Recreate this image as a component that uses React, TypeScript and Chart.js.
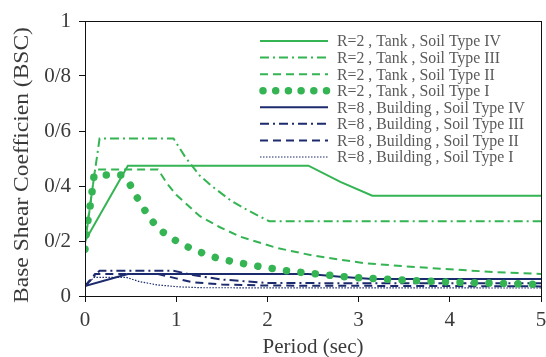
import React, { useEffect, useRef } from 'react';
import { Chart, registerables } from 'chart.js';

Chart.register(...registerables);

// Period (sec) and base shear coefficient values for each curve
const tankIV_T = [0, 0.47, 2.45, 2.8, 3.15, 5];
const tankIV_V = [0.2, 0.474, 0.474, 0.415, 0.365, 0.365];

const tankIII_T = [0, 0.16, 0.97, 1.1, 1.26, 1.4, 1.6, 1.8, 2.02, 5];
const tankIII_V = [0.2, 0.573, 0.573, 0.505, 0.437, 0.397, 0.347, 0.309, 0.272, 0.272];

const tankII_T = [0, 0.11, 0.8, 0.9, 1.0, 1.26, 1.48, 1.7, 2.1, 2.5, 3.05, 3.5, 4.0, 4.5, 5];
const tankII_V = [0.19, 0.46, 0.46, 0.409, 0.368, 0.29, 0.25, 0.216, 0.175, 0.147, 0.12, 0.108, 0.097, 0.087, 0.08];

const tankI_T = [0, 0.02, 0.045, 0.07, 0.1, 0.4, 0.47, 0.55, 0.62, 0.7, 0.8, 0.93, 1.06, 1.2, 1.35, 1.5, 1.7, 1.9, 2.25, 2.6, 2.9, 3.25, 3.6, 3.95, 4.3, 4.65, 5];
const tankI_V = [0.17, 0.25, 0.3, 0.36, 0.44, 0.44, 0.42, 0.37, 0.33, 0.29, 0.245, 0.215, 0.188, 0.168, 0.148, 0.133, 0.12, 0.108, 0.09, 0.078, 0.068, 0.062, 0.056, 0.051, 0.048, 0.045, 0.042];

const bldIV_T = [0, 0.47, 2.45, 2.8, 3.15, 5];
const bldIV_V = [0.036, 0.08, 0.08, 0.07, 0.062, 0.062];

const bldIII_T = [0, 0.16, 0.97, 1.2, 1.5, 2.0, 5];
const bldIII_V = [0.036, 0.092, 0.092, 0.075, 0.06, 0.047, 0.046];

const bldII_T = [0, 0.11, 0.8, 1.0, 1.18, 1.5, 2.0, 5];
const bldII_V = [0.036, 0.08, 0.08, 0.064, 0.05, 0.042, 0.038, 0.035];

const bldI_T = [0, 0.1, 0.45, 0.6, 0.8, 1.04, 1.3, 5];
const bldI_V = [0.036, 0.068, 0.068, 0.052, 0.04, 0.033, 0.03, 0.029];

const seriesLabels = [
  'R=2 , Tank , Soil Type IV',
  'R=2 , Tank , Soil Type III',
  'R=2 , Tank , Soil Type II',
  'R=2 , Tank , Soil Type I',
  'R=8 , Building , Soil Type IV',
  'R=8 , Building , Soil Type III',
  'R=8 , Building , Soil Type II',
  'R=8 , Building , Soil Type I',
];

const yTickLabels = ['0', '0/2', '0/4', '0/6', '0/8', '1'];
const xTitle = 'Period (sec)';
const yTitle = 'Base Shear Coefficien (BSC)';

const GREEN = '#34b453';
const NAVY = '#1c2a6e';
const FONT = '"Liberation Serif", "Times New Roman", serif';

const pts = (t: number[], v: number[]) => t.map((x, i) => ({ x, y: v[i] }));

const App = () => {
  const ref = useRef<HTMLCanvasElement | null>(null);

  useEffect(() => {
    if (!ref.current) return;
    const styles = [
      { c: GREEN, w: 2, d: [] as number[], ld: [] as number[], cap: 'butt' },
      { c: GREEN, w: 2, d: [9, 4, 2, 4], ld: [9, 4, 2, 4], cap: 'butt' },
      { c: GREEN, w: 2, d: [8, 5], ld: [8, 5], cap: 'butt' },
      { c: GREEN, w: 7.5, d: [0.001, 14.5], ld: [0.001, 12.7], cap: 'round' },
      { c: NAVY, w: 2, d: [] as number[], ld: [] as number[], cap: 'butt' },
      { c: NAVY, w: 2, d: [9, 4, 2, 4], ld: [9, 4, 2, 4], cap: 'butt' },
      { c: NAVY, w: 2, d: [8, 5], ld: [8, 5], cap: 'butt' },
      { c: NAVY, w: 1.2, d: [1.5, 1.5], ld: [1.5, 1.5], cap: 'butt' },
    ];
    const dataSets = [
      pts(tankIV_T, tankIV_V),
      pts(tankIII_T, tankIII_V),
      pts(tankII_T, tankII_V),
      pts(tankI_T, tankI_V),
      pts(bldIV_T, bldIV_V),
      pts(bldIII_T, bldIII_V),
      pts(bldII_T, bldII_V),
      pts(bldI_T, bldI_V),
    ];
    const datasets = dataSets.map((d, i) => ({
      label: seriesLabels[i],
      data: d,
      borderColor: styles[i].c,
      backgroundColor: styles[i].c,
      borderWidth: styles[i].w,
      borderDash: styles[i].d,
      borderCapStyle: styles[i].cap as CanvasLineCap,
      pointRadius: 0,
      tension: 0,
      fill: false,
    }));

    const framePlugin = {
      id: 'frame',
      afterDraw(chart: any) {
        const { ctx, chartArea: a } = chart;
        ctx.save();
        ctx.strokeStyle = '#111';
        ctx.lineWidth = 1;
        ctx.strokeRect(Math.round(a.left) + 0.5, Math.round(a.top) + 0.5, Math.round(a.right - a.left), Math.round(a.bottom - a.top));
        // y axis title, stretched slightly along its length like the reference
        ctx.translate(22, (a.top + a.bottom) / 2 + 6.5);
        ctx.rotate(-Math.PI / 2);
        ctx.scale(1.12, 1);
        ctx.font = '21px ' + FONT;
        ctx.fillStyle = '#3a3a3a';
        ctx.textAlign = 'center';
        ctx.textBaseline = 'middle';
        ctx.fillText(yTitle, 0, 0);
        ctx.restore();
      },
    };

    const legendPlugin = {
      id: 'innerLegend',
      afterDraw(chart: any) {
        const { ctx, chartArea: a } = chart;
        const x1 = a.left + 175;
        const x2 = a.left + 243;
        const tx = a.left + 252;
        const y0 = a.top + 20;
        const dy = 16.57;
        ctx.save();
        seriesLabels.forEach((lab, i) => {
          const s = styles[i];
          const y = y0 + i * dy;
          ctx.beginPath();
          ctx.strokeStyle = s.c;
          ctx.lineWidth = s.w;
          ctx.lineCap = s.cap as CanvasLineCap;
          ctx.setLineDash(s.ld);
          if (s.cap === 'round') {
            ctx.moveTo(x1 + 3, y);
            ctx.lineTo(x2, y);
          } else {
            ctx.moveTo(x1, y);
            ctx.lineTo(x2, y);
          }
          ctx.stroke();
          ctx.setLineDash([]);
          ctx.save();
          ctx.translate(tx, y + 1);
          ctx.scale(0.93, 1);
          ctx.font = '17px ' + FONT;
          ctx.textBaseline = 'middle';
          ctx.textAlign = 'left';
          ctx.fillStyle = '#5a5a5a';
          ctx.fillText(lab, 0, 0);
          ctx.restore();
        });
        ctx.restore();
      },
    };

    const chart = new Chart(ref.current, {
      type: 'line',
      data: { datasets },
      plugins: [framePlugin, legendPlugin],
      options: {
        animation: false,
        responsive: true,
        maintainAspectRatio: false,
        layout: { padding: { top: 21, right: 5, left: 0, bottom: 0 } },
        plugins: { legend: { display: false }, tooltip: { enabled: false } },
        scales: {
          x: {
            type: 'linear',
            min: 0,
            max: 5,
            ticks: {
              stepSize: 1,
              color: '#3a3a3a',
              padding: 6,
              font: { family: FONT, size: 21 },
            },
            grid: { drawOnChartArea: false, drawTicks: true, tickLength: 6, color: '#111' },
            border: { display: true, color: '#111', width: 1 },
            title: {
              display: true,
              text: xTitle,
              color: '#3a3a3a',
              font: { family: FONT, size: 21, lineHeight: 1 },
              padding: { top: 0, bottom: -1 },
            },
            afterFit(s: any) {
              s.height = 61;
              s.paddingLeft = 0;
              s.paddingRight = 0;
            },
          },
          y: {
            type: 'linear',
            min: 0,
            max: 1,
            ticks: {
              stepSize: 0.2,
              color: '#3a3a3a',
              padding: 8,
              font: { family: FONT, size: 21 },
              callback: (_v: any, i: number) => yTickLabels[i],
            },
            grid: { drawOnChartArea: false, drawTicks: true, tickLength: 6, color: '#111' },
            border: { display: true, color: '#111', width: 1 },
            title: { display: false },
            afterFit(s: any) {
              s.width = 85;
              s.paddingTop = 0;
              s.paddingBottom = 0;
            },
          },
        },
      },
    });
    return () => chart.destroy();
  }, []);

  return (
    <div style={{ position: 'fixed', left: 0, top: 0, width: 546, height: 357, background: '#fff' }}>
      <canvas ref={ref} />
    </div>
  );
};

export default App;
